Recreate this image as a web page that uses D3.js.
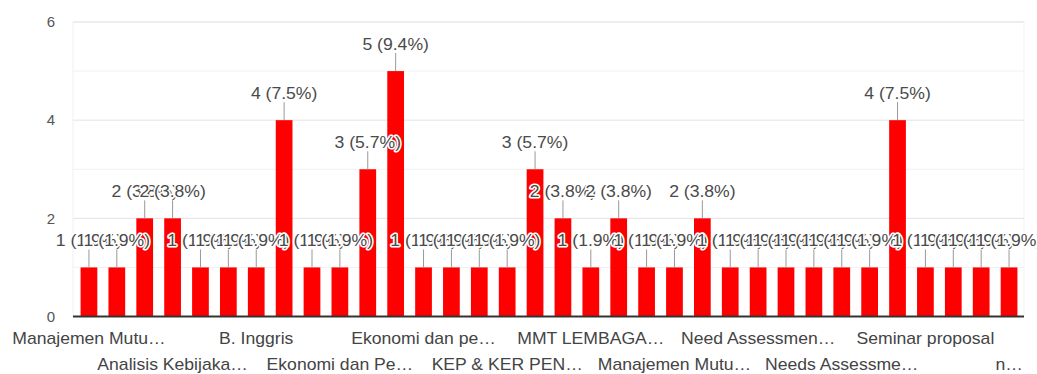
<!DOCTYPE html>
<html>
<head>
<meta charset="utf-8">
<script src="https://cdn.jsdelivr.net/npm/d3@7/dist/d3.min.js"></script>
<style>
  html, body { margin: 0; padding: 0; background: #fff; }
  svg { display: block; font-family: "Liberation Sans", Arial, sans-serif; }
</style>
</head>
<body>
<svg id="chart" width="1037" height="374"></svg>
<script>
// ---- data ----
const categories = [
  "Manajemen Mutu…", "Administrasi Pendidikan", "Analisis Kebijakan", "Analisis Kebijaka…",
  "B. Arab", "B. Indonesia", "B. Inggris", "Bimbingan Konseling", "Ekonomi Pendidikan",
  "Ekonomi dan Pe…", "Ekonomi dan Pembiayaan", "Ekonomi dan Pembiayaan Pendidikan",
  "Ekonomi dan pe…", "Evaluasi Pendidikan", "Filsafat Pendidikan", "KEP & KER PEN…",
  "Kepemimpinan", "MMT", "MMT LEMBAGA…", "Manajemen Kurikulum", "Manajemen Mutu",
  "Manajemen Mutu…", "Manajemen SDM", "Metodologi Penelitian", "Need Assessmen…",
  "Need Assessment", "Needs Assessment", "Needs Assessme…", "Psikologi Pendidikan",
  "Seminar", "Seminar proposal", "Statistik", "Supervisi Pendidikan", "n…"
];
const counts = [1,1,2,2,1,1,1,4,1,1,3,5,1,1,1,1,3,2,1,2,1,1,2,1,1,1,1,1,1,4,1,1,1,1];
const yTicks = [0, 2, 4, 6];
const yMinorTicks = [1, 3, 5];
const labelEvery = 3;

const total = d3.sum(counts);
const fmtPct = d => d3.format(".1f")(d / total * 100) + "%";

// ---- layout ----
const svg = d3.select("#chart");
const pLeft = 73, pRight = 1024, pTop = 22, pBottom = 316.5;

const x = d3.scaleBand()
  .domain(d3.range(categories.length))
  .range([75, 1023])
  .paddingInner(0.4)
  .paddingOuter(0.2);

const y = d3.scaleLinear().domain([0, 6]).range([pBottom, pTop]);

// plot frame
svg.append("rect")
  .attr("x", pLeft).attr("y", pTop)
  .attr("width", pRight - pLeft).attr("height", pBottom - pTop)
  .attr("fill", "none").attr("stroke", "#f2f2f2");

// minor grid
svg.append("g").selectAll("line").data(yMinorTicks).join("line")
  .attr("x1", pLeft).attr("x2", pRight)
  .attr("y1", d => y(d)).attr("y2", d => y(d))
  .attr("stroke", "#f1f1f1").attr("stroke-width", 1);

// major grid
svg.append("g").selectAll("line").data(yTicks.filter(d => d > 0)).join("line")
  .attr("x1", pLeft).attr("x2", pRight)
  .attr("y1", d => y(d)).attr("y2", d => y(d))
  .attr("stroke", "#e3e3e3").attr("stroke-width", 1);

// y axis
const yAxis = svg.append("g")
  .attr("transform", `translate(${pLeft},0)`)
  .call(d3.axisLeft(y).tickValues(yTicks).tickSize(0).tickPadding(18).tickFormat(d3.format("d")));
yAxis.select(".domain").remove();
yAxis.selectAll("text")
  .attr("font-family", "'Liberation Sans', Arial, sans-serif")
  .attr("font-size", 15).attr("fill", "#555");

// bars
svg.append("g").selectAll("rect").data(counts).join("rect")
  .attr("x", (d, i) => x(i))
  .attr("width", x.bandwidth())
  .attr("y", d => y(d))
  .attr("height", d => y(0) - y(d))
  .attr("fill", "#ff0000");

// baseline
svg.append("line")
  .attr("x1", pLeft).attr("x2", pRight)
  .attr("y1", y(0)).attr("y2", y(0))
  .attr("stroke", "#333").attr("stroke-width", 2);

// annotations
const ann = svg.append("g");
counts.forEach((d, i) => {
  const cx = x(i) + x.bandwidth() / 2;
  const yt = y(d);
  ann.append("line")
    .attr("x1", cx).attr("x2", cx)
    .attr("y1", yt).attr("y2", yt - 18)
    .attr("stroke", "#999").attr("stroke-width", 1);
  ann.append("text")
    .attr("transform", `translate(${cx},${yt - 21}) scale(1.1,1)`)
    .attr("text-anchor", "middle")
    .attr("font-size", 16)
    .attr("fill", "#4a4a4a")
    .attr("stroke", "#fff").attr("stroke-width", 3)
    .attr("paint-order", "stroke")
    .attr("stroke-linejoin", "round")
    .text(`${d} (${fmtPct(d)})`);
});

// x axis
const xAxis = svg.append("g")
  .attr("transform", `translate(0,${y(0)})`)
  .call(d3.axisBottom(x)
    .tickValues(d3.range(0, categories.length, labelEvery))
    .tickSize(0)
    .tickFormat(i => categories[i]));
xAxis.select(".domain").remove();
xAxis.selectAll("text")
  .attr("font-family", "'Liberation Sans', Arial, sans-serif")
  .attr("font-size", 16)
  .attr("fill", "#444")
  .attr("dy", null)
  .attr("y", i => ((i / labelEvery) % 2 === 0) ? 27.5 : 54)
  .attr("transform", "scale(1.1,1)");
</script>
</body>
</html>
